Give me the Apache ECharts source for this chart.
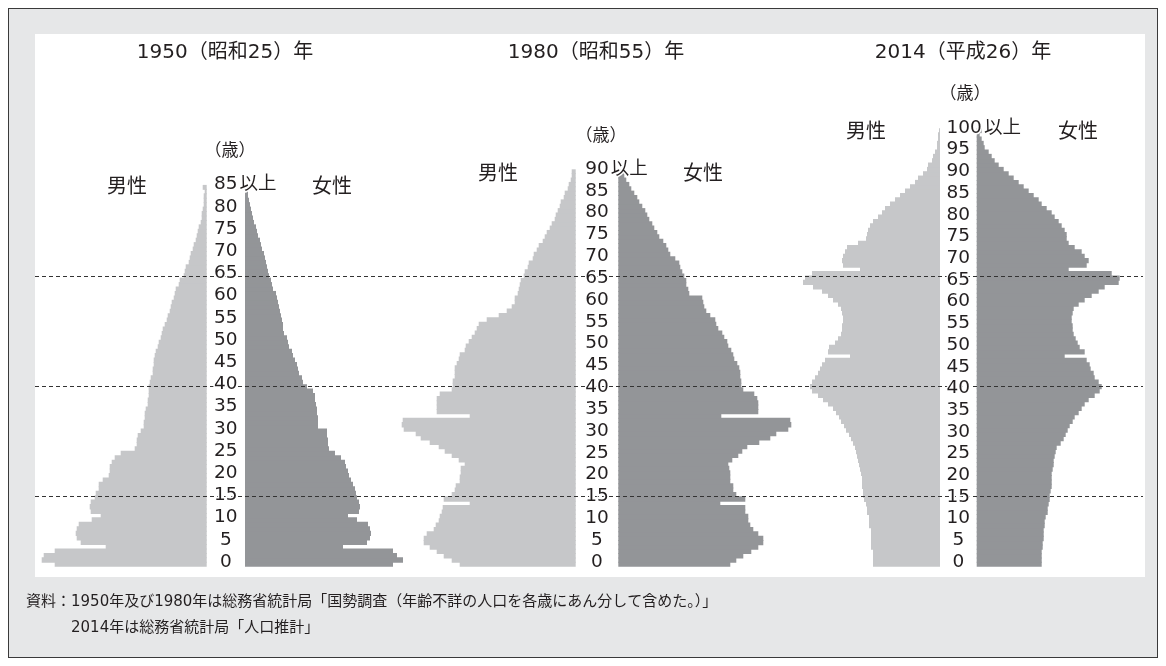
<!DOCTYPE html>
<html><head><meta charset="utf-8">
<script src="https://cdn.jsdelivr.net/npm/echarts@6/dist/echarts.min.js"></script>
<style>
html,body{margin:0;padding:0;background:#fff;}
#frame{position:absolute;left:8px;top:8px;width:1150px;height:650px;box-sizing:border-box;border:1.5px solid #3a3a3a;background:#e6e7e8;}
#panel{position:absolute;left:35px;top:34px;width:1110px;height:543px;background:#fff;}
#chart{position:absolute;left:0;top:0;width:1166px;height:666px;}
</style></head><body>
<div id="frame"></div><div id="panel"></div><div id="chart"></div>
<script>
// population by single year of age, thousand persons
const years = ['1950（昭和25）年', '1980（昭和55）年', '2014（平成26）年'];
const cats1950 = Array.from({length: 85}, (_, i) => String(i)).concat('85以上');
const cats1980 = Array.from({length: 90}, (_, i) => String(i)).concat('90以上');
const cats2014 = Array.from({length: 100}, (_, i) => String(i)).concat('100以上');

const male1950 = [1216,1320,1304,1216,808,1008,1040,1048,1040,1024,
 920,848,928,936,928,896,888,864,864,832,
 784,776,776,760,736,688,576,560,560,552,
 528,504,504,496,496,488,472,472,464,464,
 464,456,448,432,432,424,424,416,408,392,
 384,368,360,352,336,320,312,296,288,280,
 264,256,248,224,216,184,176,168,144,136,
 128,112,104,88,80,72,64,48,40,40,
 32,24,24,24,16,32];
const female1950 = [1184,1264,1216,1184,784,976,1000,1008,1000,984,
 896,824,912,920,912,896,888,880,864,848,
 832,824,808,800,768,720,672,664,664,656,
 656,584,584,584,576,576,568,560,560,544,
 496,464,456,432,424,416,400,384,376,352,
 344,336,312,304,304,296,288,280,272,264,
 256,248,224,216,208,192,184,176,168,160,
 152,136,128,120,104,96,88,72,64,56,
 48,40,32,24,24,32];
const male1980 = [928,992,1056,1112,1168,1216,1216,1192,1136,1120,
 1096,1088,1072,1064,848,1056,992,968,960,928,
 928,920,920,888,936,992,1048,1096,1168,1240,
 1280,1376,1392,1384,848,1112,1112,1112,1112,1088,
 992,984,984,968,968,968,952,936,928,888,
 880,856,832,808,792,776,712,616,552,512,
 488,488,464,456,448,440,416,408,384,376,
 344,336,312,296,264,248,232,208,192,168,
 160,144,128,120,96,88,64,56,40,32,
 32];
const female1980 = [896,944,1000,1064,1120,1160,1160,1120,1080,1056,
 1040,1040,1016,1016,816,1016,944,920,920,896,
 896,896,888,880,912,960,992,1032,1128,1216,
 1264,1360,1384,1376,824,1120,1120,1120,1112,1088,
 1000,984,984,976,976,968,952,928,920,904,
 880,872,848,832,800,784,776,736,704,688,
 680,672,568,560,544,544,528,512,496,488,
 456,416,400,384,360,328,312,288,272,248,
 232,216,192,168,152,128,104,88,64,48,
 56];
const male2014 = [536,536,536,536,552,552,552,552,552,568,
 568,568,584,584,592,608,616,616,624,624,
 624,632,640,648,656,664,672,680,696,712,
 728,752,768,792,808,832,856,896,936,976,
 1024,1040,1024,1000,976,960,944,920,720,896,
 888,840,816,792,784,784,776,776,784,792,
 816,856,896,944,1016,1096,1080,1024,640,776,
 784,776,760,744,656,592,584,576,560,536,
 496,464,440,400,360,320,280,240,200,176,
 136,104,96,64,56,40,24,24,16,16,
 8];
const female2014 = [520,520,520,520,528,528,536,536,536,544,
 544,552,568,568,576,584,584,592,600,600,
 600,600,608,616,616,624,632,640,672,696,
 712,728,744,768,784,816,840,864,896,944,
 984,1000,976,944,936,912,904,880,704,864,
 824,808,792,776,768,768,760,760,768,776,
 816,864,920,976,1024,1136,1144,1080,736,880,
 896,864,840,784,736,720,720,704,680,656,
 624,600,560,520,496,456,416,376,336,296,
 256,216,176,144,120,96,64,56,40,24,
 40];
const refAges = [65, 40, 15];

const FONT = '"DejaVu Sans", "Noto Sans CJK JP", sans-serif';
const TXT = '#231f20';
const MALE = '#c6c7c9', FEMALE = '#939598';
const XMAX = 1440, GW = 180, BOTTOM = 99.3, CH = 666;
const LFS = 18.5, DW = LFS * 0.636;

const pyramids = [
  {cats: cats1950, male: male1950, female: female1950, maleRight: 206.7, femaleLeft: 245, top: 184.9},
  {cats: cats1980, male: male1980, female: female1980, maleRight: 575.7, femaleLeft: 618.3, top: 169.3},
  {cats: cats2014, male: male2014, female: female2014, maleRight: 940, femaleLeft: 976.7, top: 128.3}
];

const grid = [], xAxis = [], yAxis = [], series = [];
pyramids.forEach((p) => {
  const margin = (p.femaleLeft - p.maleRight) / 2;
  const band = (CH - BOTTOM - p.top) / p.cats.length;
  const bw = band + 1.0;
  // male grid
  let gi = grid.length;
  grid.push({left: p.maleRight - GW, width: GW, top: p.top, bottom: BOTTOM});
  xAxis.push({gridIndex: gi, type: 'value', min: 0, max: XMAX, inverse: true, show: false});
  yAxis.push({
    gridIndex: gi, type: 'category', data: p.cats, position: 'right', z: 10,
    axisLine: {show: false}, axisTick: {show: false}, splitLine: {show: false},
    axisLabel: {
      interval: (i) => i % 5 === 0, margin: margin, align: 'center', verticalAlign: 'middle',
      fontSize: LFS, fontFamily: FONT, color: TXT, textBorderColor: '#fff', textBorderWidth: 3,
      padding: [0, 0, 5, 0],
      formatter: (v) => {
        if (v.endsWith('以上')) {
          const n = v.replace('以上', '');
          return '{p| }{n|' + n + '}{s|以上}';
        }
        return v;
      },
      rich: {
        p: {width: 39 + (p.cats[p.cats.length - 1].length - 4) * DW, fontSize: LFS, fontFamily: FONT},
        n: {fontSize: LFS, fontFamily: FONT, color: TXT, textBorderColor: '#fff', textBorderWidth: 3},
        s: {fontSize: LFS, fontFamily: FONT, color: TXT, textBorderColor: '#fff', textBorderWidth: 3, padding: [0, 0, 0, 2]}
      }
    }
  });
  series.push({type: 'bar', xAxisIndex: gi, yAxisIndex: gi, data: p.male, barWidth: bw,
    itemStyle: {color: MALE}, silent: true, z: 2});
  // female grid
  gi = grid.length;
  grid.push({left: p.femaleLeft, width: GW, top: p.top, bottom: BOTTOM});
  xAxis.push({gridIndex: gi, type: 'value', min: 0, max: XMAX, show: false});
  yAxis.push({gridIndex: gi, type: 'category', data: p.cats, show: false});
  series.push({type: 'bar', xAxisIndex: gi, yAxisIndex: gi, data: p.female, barWidth: bw,
    itemStyle: {color: FEMALE}, silent: true, z: 2});
});

// overlay grid for the dashed reference lines
const og = grid.length;
grid.push({left: 35, right: 23, top: 123.2, height: 438.6});
xAxis.push({gridIndex: og, type: 'value', min: 0, max: 1, show: false});
yAxis.push({gridIndex: og, type: 'value', min: 0, max: 100, show: false});
series.push({type: 'line', xAxisIndex: og, yAxisIndex: og, data: [[0, 0], [1, 100]],
  symbol: 'none', lineStyle: {opacity: 0}, silent: true, z: 3,
  markLine: {silent: true, symbol: ['none', 'none'], label: {show: false},
    lineStyle: {color: '#333333', width: 1, type: [4, 3]},
    data: refAges.map((a) => ({yAxis: a}))}});

function txt(text, x, y, size, align) {
  return {type: 'text', x: x, y: y, z: 20, silent: true,
    style: {text: text, fontSize: size, fontFamily: FONT, fill: TXT, align: align || 'center', verticalAlign: 'middle'}};
}
const graphic = [
  txt(years[0], 225, 53, 20), txt(years[1], 596, 53, 20), txt(years[2], 963, 53, 20),
  txt('男性', 127, 188, 20), txt('女性', 332, 188, 20),
  txt('男性', 498, 175, 20), txt('女性', 703, 175, 20),
  txt('男性', 866, 133, 20), txt('女性', 1078, 133, 20),
  txt('（歳）', 230, 152, 17), txt('（歳）', 601, 137, 17), txt('（歳）', 965, 95, 17),
  txt('資料：1950年及び1980年は総務省統計局「国勢調査（年齢不詳の人口を各歳にあん分して含めた。）」', 26, 602, 15, 'left'),
  txt('2014年は総務省統計局「人口推計」', 71, 628, 15, 'left')
];

const chart = echarts.init(document.getElementById('chart'), null, {renderer: 'canvas'});
chart.setOption({animation: false, grid, xAxis, yAxis, series, graphic});
</script></body></html>
